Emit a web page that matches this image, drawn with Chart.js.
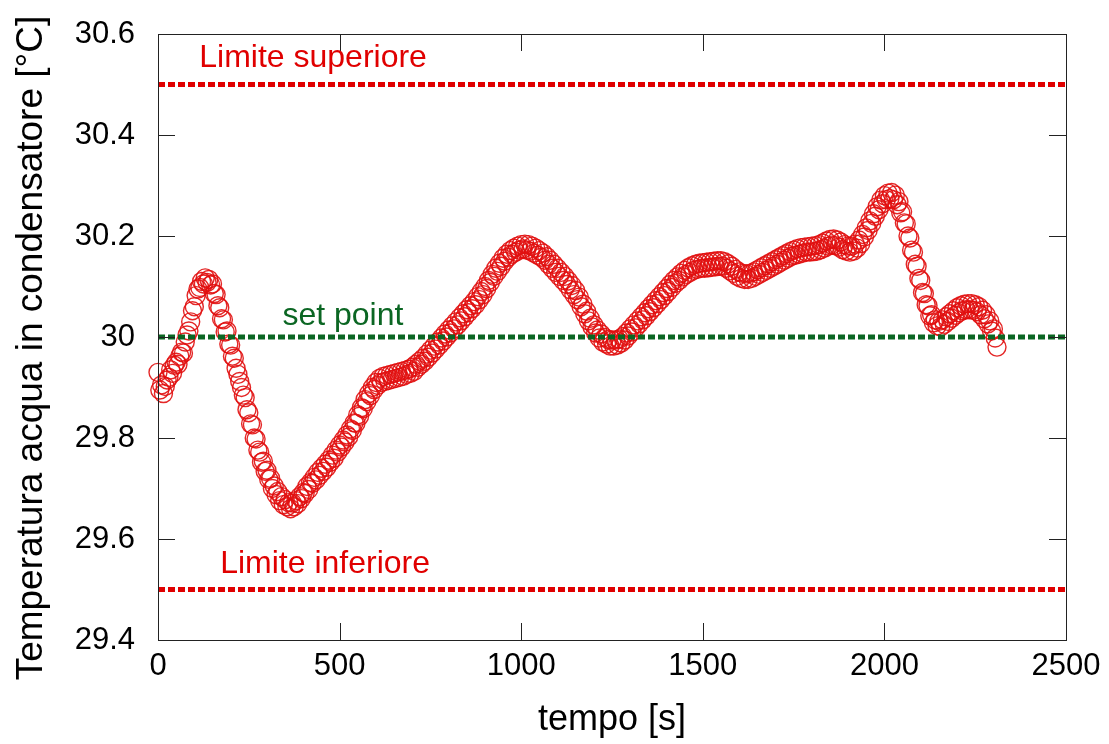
<!DOCTYPE html>
<html>
<head>
<meta charset="utf-8">
<script src="https://cdn.jsdelivr.net/npm/chart.js@4/dist/chart.umd.min.js"></script>
<style>
  html, body { margin: 0; padding: 0; background: #fff; }
  canvas { display: block; }
</style>
</head>
<body>
<canvas id="tempChart" width="1109" height="744"></canvas>
<script>
// tempo [s]: campioni ogni 5 s, a partire da 0
const tStep = 5;
const temperature = [
  29.930, 29.895, 29.905, 29.888, 29.902, 29.915, 29.920, 29.935, 29.928, 29.944,
  29.950, 29.946, 29.962, 29.970, 29.968, 29.990, 30.004, 30.012, 30.030, 30.052,
  30.060, 30.082, 30.095, 30.098, 30.110, 30.105, 30.117, 30.108, 30.114, 30.103,
  30.105, 30.086, 30.084, 30.062, 30.058, 30.036, 30.034, 30.010, 30.012, 29.986,
  29.984, 29.962, 29.958, 29.938, 29.926, 29.912, 29.900, 29.885, 29.880, 29.856,
  29.850, 29.828, 29.826, 29.800, 29.798, 29.776, 29.772, 29.752, 29.754, 29.734,
  29.736, 29.718, 29.720, 29.700, 29.705, 29.688, 29.694, 29.676, 29.684, 29.668,
  29.678, 29.664, 29.672, 29.660, 29.671, 29.664, 29.676, 29.670, 29.684, 29.680,
  29.692, 29.690, 29.704, 29.698, 29.712, 29.710, 29.722, 29.717, 29.732, 29.726,
  29.740, 29.734, 29.748, 29.742, 29.756, 29.752, 29.766, 29.760, 29.776, 29.772,
  29.786, 29.782, 29.796, 29.792, 29.806, 29.802, 29.818, 29.815, 29.830, 29.829,
  29.846, 29.843, 29.860, 29.858, 29.876, 29.872, 29.888, 29.884, 29.900, 29.896,
  29.910, 29.904, 29.918, 29.910, 29.922, 29.912, 29.924, 29.914, 29.926, 29.916,
  29.928, 29.918, 29.930, 29.920, 29.932, 29.922, 29.934, 29.926, 29.936, 29.928,
  29.940, 29.932, 29.946, 29.940, 29.952, 29.946, 29.958, 29.952, 29.966, 29.960,
  29.974, 29.968, 29.982, 29.976, 29.990, 29.984, 29.998, 29.992, 30.006, 30.000,
  30.014, 30.008, 30.022, 30.016, 30.030, 30.024, 30.038, 30.032, 30.046, 30.040,
  30.054, 30.048, 30.062, 30.056, 30.070, 30.064, 30.080, 30.074, 30.090, 30.084,
  30.100, 30.096, 30.112, 30.108, 30.124, 30.120, 30.136, 30.130, 30.146, 30.140,
  30.156, 30.150, 30.164, 30.158, 30.171, 30.164, 30.176, 30.168, 30.180, 30.172,
  30.183, 30.174, 30.184, 30.172, 30.183, 30.170, 30.180, 30.166, 30.176, 30.162,
  30.171, 30.158, 30.166, 30.152, 30.159, 30.144, 30.152, 30.136, 30.144, 30.128,
  30.136, 30.120, 30.128, 30.112, 30.120, 30.104, 30.111, 30.094, 30.102, 30.084,
  30.092, 30.074, 30.079, 30.060, 30.065, 30.046, 30.051, 30.032, 30.037, 30.020,
  30.024, 30.008, 30.014, 29.998, 30.006, 29.990, 29.999, 29.986, 29.995, 29.982,
  29.994, 29.982, 29.994, 29.984, 29.996, 29.988, 30.001, 29.994, 30.008, 30.002,
  30.016, 30.010, 30.024, 30.018, 30.032, 30.026, 30.040, 30.034, 30.048, 30.042,
  30.056, 30.050, 30.064, 30.058, 30.072, 30.066, 30.080, 30.074, 30.088, 30.082,
  30.096, 30.090, 30.104, 30.098, 30.112, 30.106, 30.119, 30.112, 30.126, 30.119,
  30.132, 30.124, 30.137, 30.128, 30.141, 30.132, 30.144, 30.134, 30.146, 30.136,
  30.147, 30.136, 30.148, 30.137, 30.149, 30.138, 30.150, 30.139, 30.151, 30.140,
  30.151, 30.140, 30.149, 30.136, 30.145, 30.131, 30.140, 30.126, 30.134, 30.120,
  30.129, 30.116, 30.126, 30.114, 30.125, 30.114, 30.126, 30.116, 30.129, 30.120,
  30.133, 30.124, 30.137, 30.128, 30.141, 30.132, 30.145, 30.136, 30.149, 30.140,
  30.153, 30.144, 30.157, 30.148, 30.161, 30.152, 30.165, 30.156, 30.169, 30.160,
  30.172, 30.162, 30.175, 30.164, 30.177, 30.166, 30.178, 30.168, 30.179, 30.168,
  30.180, 30.169, 30.181, 30.170, 30.183, 30.173, 30.186, 30.176, 30.190, 30.180,
  30.193, 30.182, 30.194, 30.181, 30.192, 30.178, 30.188, 30.173, 30.183, 30.170,
  30.180, 30.168, 30.180, 30.170, 30.184, 30.176, 30.192, 30.185, 30.203, 30.198,
  30.216, 30.211, 30.230, 30.225, 30.244, 30.239, 30.258, 30.252, 30.271, 30.264,
  30.280, 30.272, 30.285, 30.274, 30.286, 30.272, 30.281, 30.262, 30.268, 30.246,
  30.248, 30.226, 30.224, 30.200, 30.196, 30.172, 30.168, 30.144, 30.140, 30.116,
  30.112, 30.088, 30.086, 30.064, 30.062, 30.042, 30.044, 30.028, 30.034, 30.022,
  30.031, 30.020, 30.034, 30.025, 30.040, 30.031, 30.046, 30.037, 30.052, 30.043,
  30.058, 30.048, 30.062, 30.052, 30.065, 30.054, 30.066, 30.054, 30.066, 30.053,
  30.064, 30.050, 30.060, 30.044, 30.053, 30.036, 30.044, 30.026, 30.032, 30.012,
  30.016, 29.998, 29.980
];

const limitUpper = 30.5;
const setPoint = 30.0;
const limitLower = 29.5;
const xRange = [0, 2500];

const labelTexts = ['Limite superiore', 'set point', 'Limite inferiore'];
const labelX = [427, 509, 460];
const labelY = [30.535, 30.024, 29.533];

const yTitle = 'Temperatura acqua in condensatore [°C]';

const RED = '#e00000';
const GREEN = '#0b6623';
const labelColors = [RED, GREEN, RED];
const FONT = '"Liberation Sans", Arial, sans-serif';

const points = temperature.map((v, i) => ({ x: i * tStep, y: v }));
const hLine = v => xRange.map(x => ({ x: x, y: v }));

// cornice + tacche verso l'interno sui quattro lati, più le scritte
const framePlugin = {
  id: 'frame',
  afterDraw(chart) {
    const { ctx, chartArea: a, scales: { x, y } } = chart;
    const tl = 17;
    ctx.save();
    ctx.strokeStyle = '#222';
    ctx.lineWidth = 1;
    ctx.strokeRect(a.left + 0.5, a.top + 0.5, a.right - a.left, a.bottom - a.top);
    ctx.beginPath();
    x.ticks.forEach(t => {
      const px = Math.round(x.getPixelForValue(t.value)) + 0.5;
      ctx.moveTo(px, a.bottom); ctx.lineTo(px, a.bottom - tl);
      ctx.moveTo(px, a.top); ctx.lineTo(px, a.top + tl);
    });
    y.ticks.forEach(t => {
      const py = Math.round(y.getPixelForValue(t.value)) + 0.5;
      ctx.moveTo(a.left, py); ctx.lineTo(a.left + tl, py);
      ctx.moveTo(a.right, py); ctx.lineTo(a.right - tl, py);
    });
    ctx.stroke();

    ctx.font = '32px ' + FONT;
    ctx.textAlign = 'center';
    ctx.textBaseline = 'alphabetic';
    labelTexts.forEach((txt, i) => {
      ctx.fillStyle = labelColors[i];
      ctx.fillText(txt, x.getPixelForValue(labelX[i]), y.getPixelForValue(labelY[i]));
    });

    // titolo asse y, un po' sotto il centro come nell'originale
    ctx.translate(42, (a.top + a.bottom) / 2 + 11);
    ctx.rotate(-Math.PI / 2);
    ctx.font = '37px ' + FONT;
    ctx.fillStyle = '#000';
    ctx.fillText(yTitle, 0, 0);
    ctx.restore();
  }
};

const dashed = (label, v, color) => ({
  label: label,
  type: 'line',
  data: hLine(v),
  borderColor: color,
  borderWidth: 5,
  borderDash: [7, 3],
  pointRadius: 0,
  order: 0
});

new Chart(document.getElementById('tempChart'), {
  type: 'scatter',
  data: {
    datasets: [
      dashed('Limite superiore', limitUpper, RED),
      dashed('set point', setPoint, GREEN),
      dashed('Limite inferiore', limitLower, RED),
      {
        label: 'Temperatura',
        data: points,
        clip: false,
        pointStyle: 'circle',
        pointRadius: 9,
        pointBorderWidth: 1.4,
        pointBorderColor: 'rgba(225, 15, 15, 0.9)',
        pointBackgroundColor: 'rgba(0, 0, 0, 0)',
        order: 1
      }
    ]
  },
  options: {
    responsive: false,
    animation: false,
    layout: { padding: { left: 0, top: 34, right: 43, bottom: 0 } },
    plugins: {
      legend: { display: false },
      tooltip: { enabled: false }
    },
    scales: {
      x: {
        type: 'linear',
        min: 0,
        max: 2500,
        grid: { display: false, drawTicks: false },
        border: { display: false },
        ticks: {
          stepSize: 500,
          padding: 8,
          color: '#000',
          font: { family: FONT, size: 31 },
          callback: v => String(v)
        },
        title: {
          display: true,
          text: 'tempo [s]',
          color: '#000',
          font: { family: FONT, size: 36 },
          padding: { top: 0, bottom: 2 }
        },
        afterFit(scale) {
          scale.height = 104;
          scale.paddingLeft = 0;
          scale.paddingRight = 0;
        }
      },
      y: {
        type: 'linear',
        min: 29.4,
        max: 30.6,
        grid: { display: false, drawTicks: false },
        border: { display: false },
        ticks: {
          stepSize: 0.2,
          padding: 23,
          color: '#000',
          font: { family: FONT, size: 31 },
          callback: v => String(+v.toFixed(1))
        },
        title: { display: false, text: yTitle },
        afterFit(scale) {
          scale.width = 158;
          scale.paddingTop = 0;
          scale.paddingBottom = 0;
        }
      }
    }
  },
  plugins: [framePlugin]
});
</script>
</body>
</html>
